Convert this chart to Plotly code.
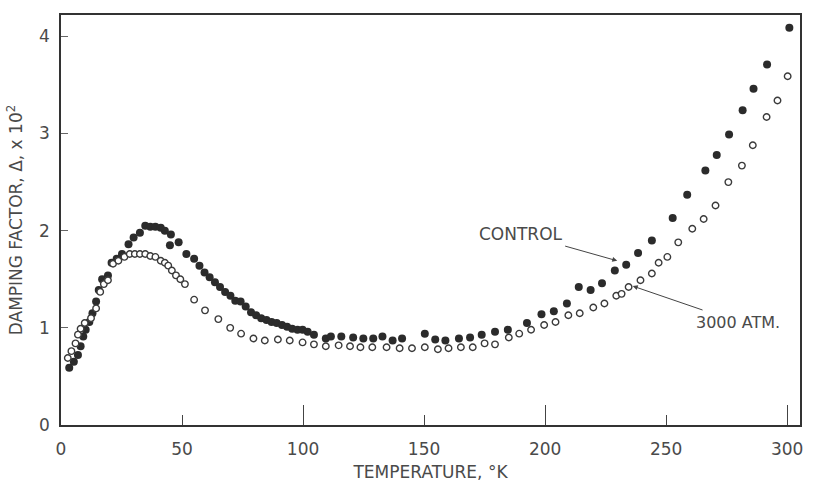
import plotly.graph_objects as go

# CONTROL (filled circles)
control_t = [3.4, 5.3, 7.0, 8.1, 9.2, 10.2, 11.7, 13.0, 14.5, 15.6, 17.0, 19.4, 20.9, 23.0, 25.2,
             27.9, 30.0, 32.6, 34.8, 36.9, 39.0, 41.2, 42.9, 45.4, 45.0, 48.6, 51.8, 55.0, 57.2,
             59.3, 61.4, 63.6, 65.7, 67.8, 70.0, 72.0, 74.2, 76.3, 78.5, 80.6, 82.7, 84.9, 87.0,
             89.1, 91.3, 93.4, 95.5, 97.7, 99.8, 101.9, 104.5, 109.4, 111.5, 115.8, 120.7, 124.9,
             129.0, 132.8, 137.0, 140.9, 150.3, 154.6, 158.8, 164.4, 169.0, 173.8, 179.3, 184.6,
             192.5, 198.5, 203.6, 209.0, 213.9, 218.8, 223.5, 228.8, 233.5, 238.4, 244.1, 252.7,
             258.7, 266.2, 270.9, 276.0, 281.6, 286.1, 291.7, 300.9]
control_d = [0.59, 0.65, 0.72, 0.81, 0.91, 0.98, 1.06, 1.15, 1.27, 1.39, 1.50, 1.54, 1.67, 1.71, 1.76,
             1.86, 1.93, 1.98, 2.05, 2.04, 2.04, 2.03, 2.00, 1.96, 1.85, 1.88, 1.76, 1.71, 1.64,
             1.57, 1.52, 1.47, 1.42, 1.37, 1.33, 1.28, 1.27, 1.22, 1.16, 1.13, 1.10, 1.08, 1.06,
             1.05, 1.03, 1.01, 0.99, 0.98, 0.98, 0.96, 0.93, 0.89, 0.91, 0.91, 0.90, 0.89,
             0.89, 0.91, 0.87, 0.89, 0.94, 0.88, 0.87, 0.89, 0.90, 0.93, 0.96, 0.98,
             1.05, 1.14, 1.17, 1.25, 1.42, 1.39, 1.46, 1.59, 1.65, 1.77, 1.90, 2.13,
             2.37, 2.62, 2.78, 2.99, 3.24, 3.46, 3.71, 4.09]

# 3000 ATM (open circles)
atm_t = [2.8, 4.3, 6.0, 7.0, 8.1, 9.8, 12.4, 14.5, 16.2, 17.7, 19.4, 21.5, 23.7, 26.2, 28.4, 30.5,
         32.6, 34.8, 36.9, 39.0, 41.2, 42.9, 44.3, 45.8, 47.5, 49.3, 51.2, 55.0, 59.5, 65.0, 69.9,
         74.4, 79.5, 84.2, 89.6, 94.5, 99.8, 104.5, 109.4, 114.7, 119.4, 123.7, 128.6, 134.5, 139.9,
         145.0, 150.3, 155.7, 160.1, 165.2, 170.1, 175.0, 179.3, 185.0, 189.3, 194.2, 199.6, 204.3,
         209.6, 214.3, 219.9, 224.5, 229.4, 231.6, 234.5, 239.4, 244.1, 246.9, 250.5, 255.0, 260.8,
         265.5, 270.4, 275.7, 281.3, 285.8, 291.5, 296.0, 300.2]
atm_d = [0.69, 0.76, 0.84, 0.93, 0.99, 1.05, 1.10, 1.20, 1.37, 1.45, 1.49, 1.66, 1.69, 1.73, 1.76, 1.76,
         1.76, 1.76, 1.74, 1.73, 1.69, 1.67, 1.64, 1.59, 1.54, 1.50, 1.45, 1.29, 1.18, 1.09, 1.00,
         0.94, 0.89, 0.87, 0.88, 0.87, 0.85, 0.83, 0.81, 0.82, 0.81, 0.80, 0.80, 0.80, 0.79,
         0.79, 0.80, 0.78, 0.79, 0.80, 0.80, 0.84, 0.83, 0.90, 0.94, 0.98, 1.03, 1.06,
         1.13, 1.15, 1.21, 1.25, 1.33, 1.35, 1.42, 1.49, 1.56, 1.67, 1.73, 1.88, 2.02,
         2.12, 2.26, 2.50, 2.67, 2.88, 3.17, 3.34, 3.59]

x_ticks = [0, 50, 100, 150, 200, 250, 300]
x_long_ticks = [100, 200, 300]
y_ticks = [0, 1, 2, 3, 4]

ink = "#2b2b2b"
txt = "#4a4a4a"
font = "DejaVu Sans"

fig = go.Figure()
fig.add_trace(go.Scatter(x=control_t, y=control_d, mode="markers", name="CONTROL",
                         marker=dict(size=8, color=ink, line=dict(width=0))))
fig.add_trace(go.Scatter(x=atm_t, y=atm_d, mode="markers", name="3000 ATM.",
                         marker=dict(size=6.5, color="white", line=dict(width=1.4, color="#3a3a3a"))))

fig.update_layout(
    width=813, height=489,
    margin=dict(l=61, r=10, t=15, b=61),
    paper_bgcolor="white", plot_bgcolor="white",
    showlegend=False,
    font=dict(family=font, color=txt, size=17),
    xaxis=dict(range=[0, 305.3], tickvals=x_ticks, ticks="inside", ticklen=10, tickcolor="#444",
               tickwidth=1, ticklabelstandoff=8,
               minor=dict(tickvals=x_long_ticks, ticks="inside", ticklen=20, tickcolor="#444",
                          tickwidth=1, showgrid=False),
               showgrid=False, zeroline=False, showline=True, linecolor="#333", linewidth=1.5,
               mirror=True, tickfont=dict(size=17, color=txt),
               title=dict(text="TEMPERATURE, °K", font=dict(size=17, color=txt), standoff=8)),
    yaxis=dict(range=[0, 4.22], tickvals=y_ticks, ticks="inside", ticklen=7, tickcolor="#666",
               ticklabelstandoff=6,
               showgrid=False, zeroline=False, showline=True, linecolor="#333", linewidth=1.5,
               mirror=True, tickfont=dict(size=17, color=txt),
               title=dict(text="DAMPING FACTOR, Δ, x 10<sup>2</sup>", font=dict(size=17, color=txt),
                          standoff=12)),
)

fig.add_annotation(x=229.8, y=1.69, ax=190, ay=1.97, axref="x", ayref="y", xref="x", yref="y",
                   showarrow=True, arrowhead=2, arrowsize=1, arrowwidth=1, arrowcolor="#444",
                   text="CONTROL", font=dict(size=17, color=txt), standoff=0, borderpad=2)
fig.add_annotation(x=236.2, y=1.43, ax=279.5, ay=1.06, axref="x", ayref="y", xref="x", yref="y",
                   showarrow=True, arrowhead=2, arrowsize=1, arrowwidth=1, arrowcolor="#444",
                   text="3000 ATM.", font=dict(size=16, color=txt), standoff=0, borderpad=2)

fig.write_html("out.html", config={"displayModeBar": False})

# remove default page margin so the 813x489 figure fills the window exactly
with open("out.html", "r", encoding="utf-8") as f:
    html = f.read()
html = html.replace("<head>", "<head><style>html,body{margin:0;padding:0;overflow:hidden}</style>", 1)
with open("out.html", "w", encoding="utf-8") as f:
    f.write(html)
